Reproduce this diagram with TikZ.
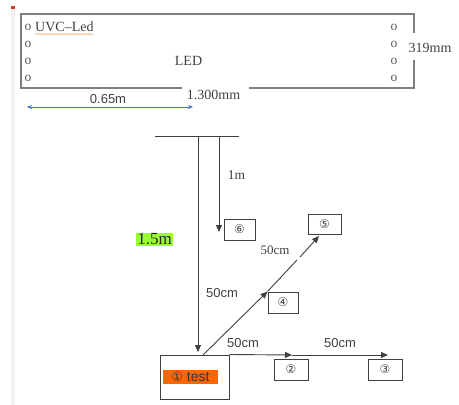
\documentclass[tikz,border=0pt]{standalone}
\usepackage{fontspec}
\setmainfont{Liberation Serif}
\newfontfamily\sansf{Liberation Sans}
\newfontfamily\circf{DejaVu Sans}
\usetikzlibrary{arrows.meta,decorations.pathmorphing}
\definecolor{framegray}{HTML}{7F7F7F}
\definecolor{linegray}{HTML}{404040}
\definecolor{txtgray}{HTML}{404040}
\definecolor{markgray}{HTML}{595959}
\definecolor{arrblue}{HTML}{4472C4}
\definecolor{hlgreen}{HTML}{99FF33}
\definecolor{hlorange}{HTML}{FF6600}
\definecolor{redmark}{HTML}{C9452A}
\definecolor{bandgray}{HTML}{F2F2F2}
\definecolor{squiggle}{HTML}{F4B183}
\tikzset{
  serlbl/.style={inner sep=0pt, text=txtgray, font=\fontsize{14}{16}\selectfont},
  sanlbl/.style={inner sep=0pt, text=txtgray, font=\sansf\fontsize{13}{15}\selectfont},
  omark/.style={inner sep=0pt, text=markgray, font=\fontsize{13.5}{15}\selectfont},
  numbox/.style={draw=linegray, line width=1pt, inner sep=0pt, text=txtgray,
    font=\circf\fontsize{12}{14}\selectfont},
  conn/.style={draw=linegray, line width=0.9pt},
  tip/.style={-{Triangle[length=7pt,width=6pt]}},
  frame/.style={draw=framegray, line width=1.3pt}
}
\begin{document}
\begin{tikzpicture}[x=1pt,y=-1pt]
\useasboundingbox (0,0) rectangle (459,405);
% page margin marks
\fill[bandgray] (11,9) rectangle (15,405);
\fill[redmark] (11,6) rectangle (15,9);

% top LED panel
\draw[frame] (21,33) -- (21,14) -- (414,14) -- (414,33);
\draw[frame] (414,60) -- (414,88) -- (249,88);
\draw[frame] (182,88) -- (21,88) -- (21,33);
\node[serlbl, anchor=west] (uvc) at (35,27) {UVC{\fontsize{14}{16}\selectfont –}Led};
\draw[squiggle, line width=0.6pt, decorate, decoration={snake, amplitude=0.6pt, segment length=3pt}]
  ([yshift=-2pt]uvc.south west) -- ([yshift=-2pt]uvc.south east);
\node[serlbl] (led) at (188.5,61) {LED};
\node[serlbl] (w) at (430,48) {319mm};
\node[serlbl] (len) at (213.5,95) {1.300mm};
\foreach \i/\yy in {1/27,2/44,3/61,4/78}{
  \node[omark] (ol\i) at (28,\yy) {o};
  \node[omark] (or\i) at (394,\yy) {o};
}
% 0.65m dimension
\coordinate (ba1) at (27,107);
\coordinate (ba2) at (193,107);
\draw[arrblue, line width=0.8pt, {Stealth[length=5pt,width=4pt]}-{Stealth[length=5pt,width=4pt]}] (ba1) -- (ba2);
\node[sanlbl] (half) at (108,99) {0.65m};

% stand
\coordinate (tl) at (155,136);
\coordinate (tr) at (239,136);
\draw[conn] (tl) -- (tr);
\coordinate (v1top) at (198,136);
\coordinate (v2top) at (219,136);

% boxes
\node[numbox, minimum width=69pt, minimum height=44pt] (test) at (194.5,377) {};
\node[inner sep=1pt, fill=hlorange, minimum width=55pt, minimum height=14pt,
  font=\sansf\fontsize{14}{16}\selectfont, text=black!80] (testlbl) at (190.5,376.5)
  {{\circf\fontsize{13}{15}\selectfont ①} test};
\node[numbox, minimum width=31pt, minimum height=21pt] (b6) at (239.5,229.5) {⑥};
\node[numbox, minimum width=33pt, minimum height=20pt] (b5) at (324.5,224) {⑤};
\node[numbox, minimum width=30pt, minimum height=21pt] (b4) at (283,302.5) {④};
\node[numbox, minimum width=34pt, minimum height=21pt] (b2) at (291,369.5) {②};
\node[numbox, minimum width=34pt, minimum height=21pt] (b3) at (385,369.5) {③};

% vertical arrows
\coordinate (v1end) at (198,352);
\coordinate (v2end) at (219,232);
\draw[conn, tip] (v1top) -- (v1end);
\draw[conn, tip] (v2top) -- (v2end);
\node[serlbl, font=\fontsize{13.5}{15}\selectfont] (onem) at (236.5,175) {1m};
\node[fill=hlgreen, inner sep=1pt, text=black!85, font=\fontsize{17}{19}\selectfont] (big) at (154.5,239.5) {1.5m};
\node[sanlbl] (c50a) at (222,293) {50cm};

% diagonal
\coordinate (d0) at (203,355);
\coordinate (d2) at (297,260);
\coordinate (d3) at (300,257);
\coordinate (d4) at (319,236);
\draw[conn, tip] (d0) -- (b4.north west);
\draw[conn] (b4.north west) -- (d2);
\draw[conn, tip] (d3) -- (d4);
\node[serlbl, font=\fontsize{13}{15}\selectfont] (c50d) at (275,250) {50cm};

% horizontal
\coordinate (h1) at (292,355);
\coordinate (h2) at (388,355);
\draw[conn, tip] (test.north east) -- (h1);
\draw[conn, tip] (h1) -- (h2);
\node[sanlbl] (c50b) at (243,343) {50cm};
\node[sanlbl] (c50c) at (340,343) {50cm};
\end{tikzpicture}
\end{document}
